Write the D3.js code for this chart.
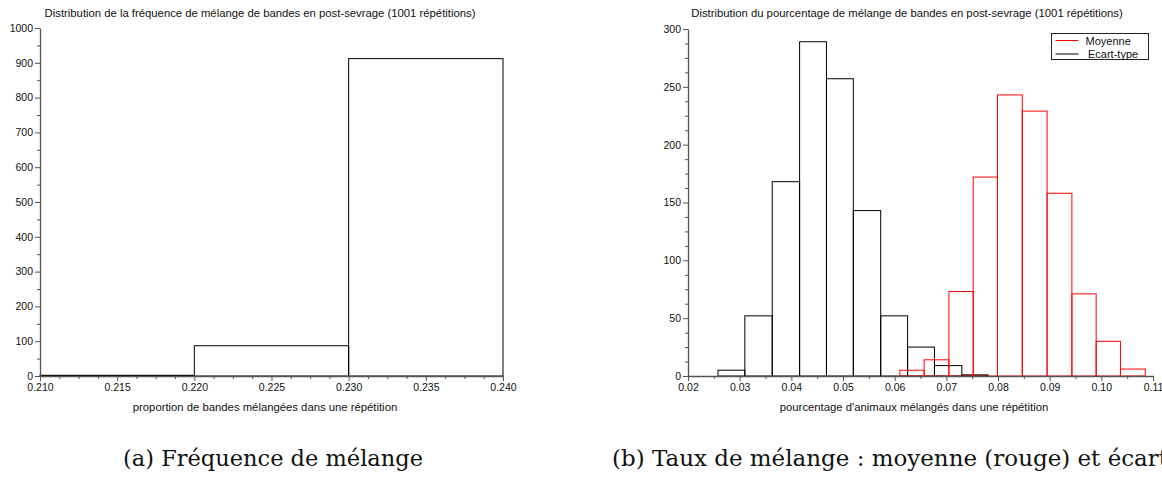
<!DOCTYPE html>
<html>
<head>
<meta charset="utf-8">
<script src="https://cdn.jsdelivr.net/npm/d3@7"></script>
<style>
  html, body { margin: 0; padding: 0; background: #fff; overflow: hidden; }
  svg { display: block; }
  text { font-family: "Liberation Sans", Arial, sans-serif; fill: #111; }
</style>
</head>
<body>
<svg id="chart" width="1162" height="479"></svg>
<script>
// ---------- DATA ----------
// Left histogram: frequency of band mixing
const leftBinEdges = [0.210, 0.220, 0.230, 0.240];
const leftCounts   = [2, 87, 912];
const leftXTicks   = ["0.210", "0.215", "0.220", "0.225", "0.230", "0.235", "0.240"];
const leftYTicks   = [0, 100, 200, 300, 400, 500, 600, 700, 800, 900, 1000];

// Right histograms: mean (red) and standard deviation (black)
const meanBinEdges = [0.0610, 0.0657, 0.0705, 0.0752, 0.0799, 0.0847, 0.0895, 0.0943, 0.0990, 0.1037, 0.1085];
const meanCounts   = [5, 14, 73, 172, 243, 229, 158, 71, 30, 6];
const sdBinEdges   = [0.0258, 0.0310, 0.0363, 0.0416, 0.0468, 0.0520, 0.0573, 0.0625, 0.0677, 0.0730, 0.0781];
const sdCounts     = [5, 52, 168, 289, 257, 143, 52, 25, 9, 1];
const rightXTicks  = ["0.02", "0.03", "0.04", "0.05", "0.06", "0.07", "0.08", "0.09", "0.10", "0.11"];
const rightYTicks  = [0, 50, 100, 150, 200, 250, 300];

const seriesNames  = ["Moyenne", "Ecart-type"];
const seriesColors = ["#ff0000", "#000000"];

const leftTitle  = "Distribution de la fréquence de mélange de bandes en post-sevrage (1001 répétitions)";
const leftXLabel = "proportion de bandes mélangées dans une répétition";
const rightTitle = "Distribution du pourcentage de mélange de bandes en post-sevrage (1001 répétitions)";
const rightXLabel = "pourcentage d'animaux mélangés dans une répétition";
const captionA = "(a) Fréquence de mélange";
const captionB = "(b) Taux de mélange : moyenne (rouge) et écart";

// ---------- DRAW ----------
const svg = d3.select("#chart");
const AX = "#555";

function bins(edges, counts) {
  return counts.map((c, i) => ({ x0: edges[i], x1: edges[i + 1], c }));
}

function drawPanel(cfg) {
  const g = svg.append("g");
  const x = d3.scaleLinear().domain(cfg.xDomain).range([cfg.left, cfg.right]);
  const y = d3.scaleLinear().domain(cfg.yDomain).range([cfg.bottom, cfg.top]);

  const xMajor = cfg.xTicks.map(Number);
  const xMinor = [];
  for (let i = 0; i < xMajor.length - 1; i++) {
    for (let k = 1; k < cfg.xSub; k++) xMinor.push(xMajor[i] + (xMajor[i + 1] - xMajor[i]) * k / cfg.xSub);
  }
  const yMinor = [];
  for (let i = 0; i < cfg.yTicks.length - 1; i++) {
    for (let k = 1; k < cfg.ySub; k++) yMinor.push(cfg.yTicks[i] + (cfg.yTicks[i + 1] - cfg.yTicks[i]) * k / cfg.ySub);
  }

  // histogram bars
  cfg.series.forEach(s => {
    g.append("g").selectAll("rect").data(bins(s.edges, s.counts)).join("rect")
      .attr("x", d => x(d.x0)).attr("width", d => x(d.x1) - x(d.x0))
      .attr("y", d => y(d.c)).attr("height", d => y(0) - y(d.c))
      .attr("fill", "none").attr("stroke", s.color).attr("stroke-width", 1);
  });

  // axes
  g.append("g").attr("transform", `translate(0,${cfg.bottom})`)
    .call(d3.axisBottom(x).tickValues(xMajor).tickFormat((d, i) => cfg.xTicks[i]).tickSize(5).tickSizeOuter(0).tickPadding(3));
  g.append("g").attr("transform", `translate(0,${cfg.bottom})`)
    .call(d3.axisBottom(x).tickValues(xMinor).tickFormat("").tickSize(3).tickSizeOuter(0))
    .call(a => a.select(".domain").remove());
  g.append("g").attr("transform", `translate(${cfg.left},0)`)
    .call(d3.axisLeft(y).tickValues(cfg.yTicks).tickFormat(d3.format("d")).tickSize(5).tickSizeOuter(0).tickPadding(2));
  g.append("g").attr("transform", `translate(${cfg.left},0)`)
    .call(d3.axisLeft(y).tickValues(yMinor).tickFormat("").tickSize(3).tickSizeOuter(0))
    .call(a => a.select(".domain").remove());

  g.selectAll(".domain").attr("stroke", AX).attr("stroke-width", 1.3);
  g.selectAll(".tick line").attr("stroke", AX).attr("stroke-width", 1);
  g.selectAll(".tick text").attr("font-family", "Liberation Sans, Arial, sans-serif")
    .attr("font-size", 10.5).attr("fill", "#111");

  g.append("text").attr("x", cfg.titleX).attr("y", 17).attr("text-anchor", "middle")
    .attr("font-size", 11.3).text(cfg.title);
  g.append("text").attr("x", cfg.labelX).attr("y", 411).attr("text-anchor", "middle")
    .attr("font-size", 11.3).text(cfg.xLabel);
}

drawPanel({
  left: 40, right: 503, top: 28, bottom: 376,
  xDomain: [0.210, 0.240], yDomain: [0, 1000],
  xTicks: leftXTicks, yTicks: leftYTicks, xSub: 4, ySub: 2,
  series: [{ edges: leftBinEdges, counts: leftCounts, color: "#000" }],
  title: leftTitle, titleX: 260, xLabel: leftXLabel, labelX: 265
});

drawPanel({
  left: 688, right: 1153, top: 29, bottom: 376,
  xDomain: [0.02, 0.11], yDomain: [0, 300],
  xTicks: rightXTicks, yTicks: rightYTicks, xSub: 2, ySub: 4,
  series: [
    { edges: sdBinEdges, counts: sdCounts, color: seriesColors[1] },
    { edges: meanBinEdges, counts: meanCounts, color: seriesColors[0] }
  ],
  title: rightTitle, titleX: 907, xLabel: rightXLabel, labelX: 914
});

// legend
const lg = svg.append("g");
const LX = 1051.5, LY = 33.5;
lg.append("rect").attr("x", LX).attr("y", LY).attr("width", 97).attr("height", 26)
  .attr("fill", "#fff").attr("stroke", "#222").attr("stroke-width", 1);
seriesNames.forEach((n, i) => {
  const yy = 40.5 + i * 13.5;
  lg.append("line").attr("x1", LX + 4).attr("x2", LX + 27).attr("y1", yy).attr("y2", yy)
    .attr("stroke", seriesColors[i]).attr("stroke-width", 1);
  lg.append("text").attr("x", LX + 34 + i * 2.5).attr("y", yy + 4).attr("text-anchor", "start")
    .attr("font-size", 11).text(n);
});

// captions
function caption(txt, x, anchor) {
  return svg.append("text").attr("x", x).attr("y", 466).attr("text-anchor", anchor)
    .style("font-family", "'DejaVu Serif', serif").attr("font-size", 20)
    .text(txt);
}
const ca = caption(captionA, 273, "middle");
const wA = ca.node().getComputedTextLength();
const fs = 20 * 300 / wA;
ca.attr("font-size", fs);
caption(captionB, 612, "start").attr("font-size", fs)
  .attr("textLength", 556).attr("lengthAdjust", "spacingAndGlyphs");
</script>
</body>
</html>
